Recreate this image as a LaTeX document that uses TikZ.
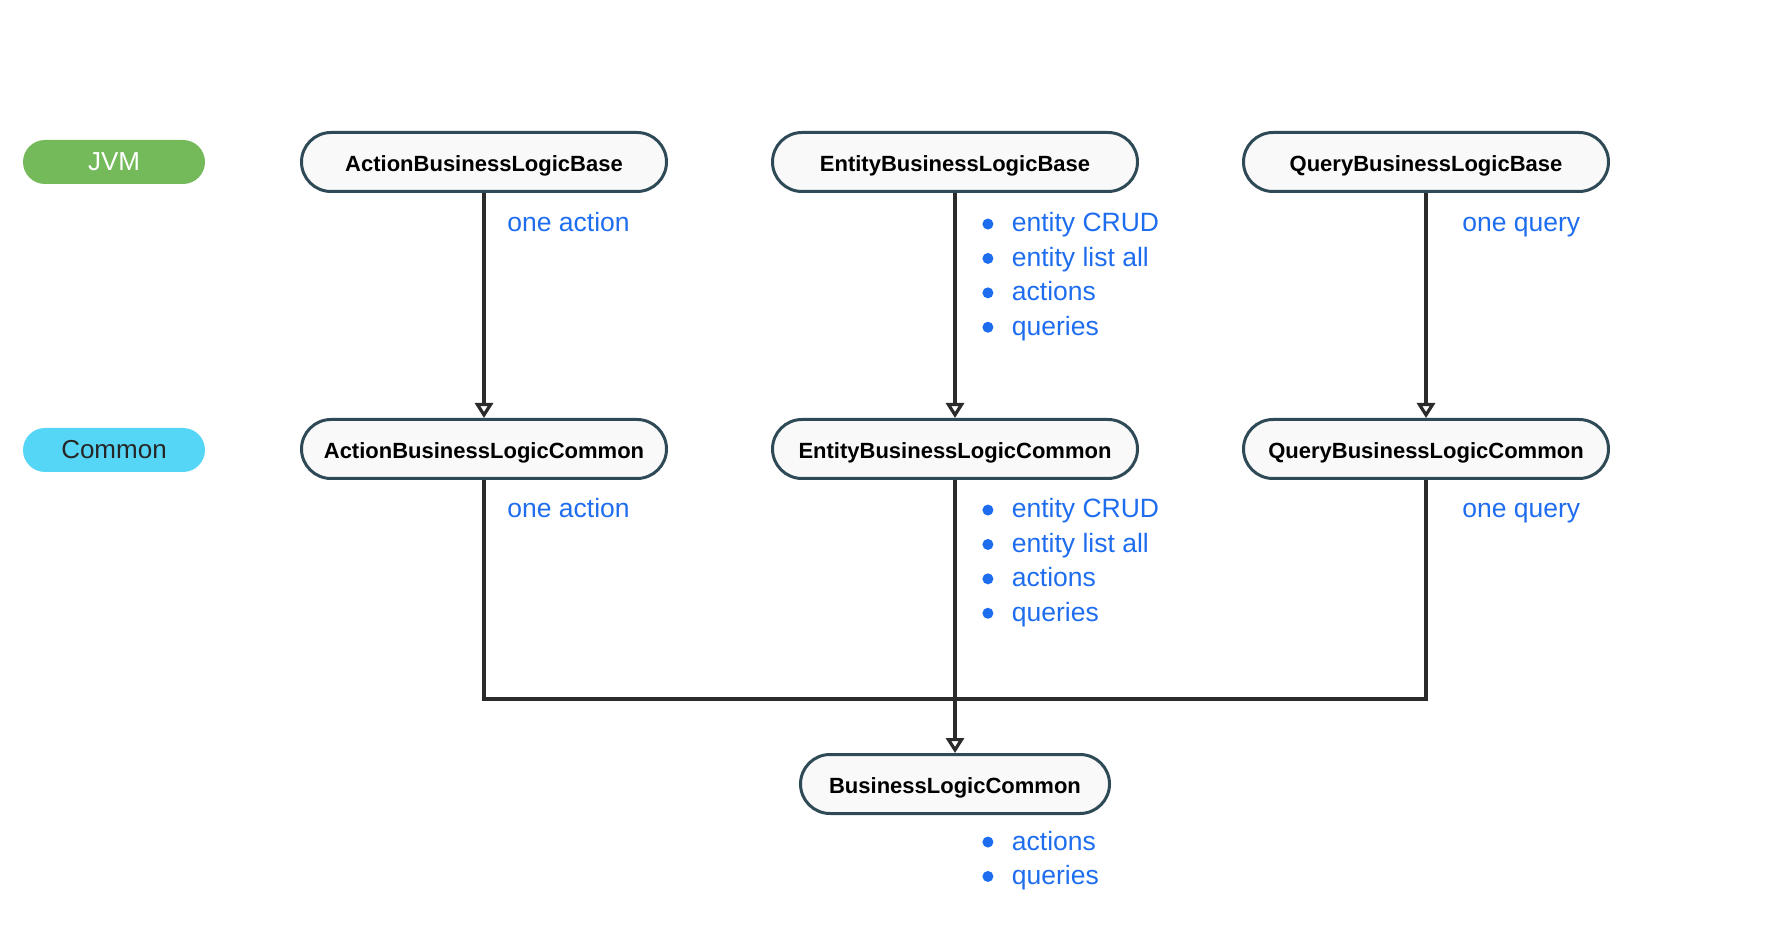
\documentclass[tikz,border=0pt]{standalone}
\usepackage{fontspec}
\setmainfont{Liberation Sans}
\usetikzlibrary{arrows.meta}

\definecolor{edgeink}{HTML}{2B2B2B}
\definecolor{boxline}{HTML}{2F4A57}
\definecolor{boxfill}{HTML}{F9F9F9}
\definecolor{noteblue}{HTML}{1F6DEF}
\definecolor{jvmgreen}{HTML}{74B95A}
\definecolor{commoncyan}{HTML}{56D6F7}

% round list marker sitting on the text's middle
\newcommand\listdot{\tikz[baseline=-0.3em]\fill[noteblue] (0,0) circle (2.75pt);}

\begin{document}
\begin{tikzpicture}[x=0.5pt,y=-0.5pt,
  cls/.style={draw=boxline, line width=1.5pt, fill=boxfill, rounded corners=14.75pt,
    minimum width=182.5pt, minimum height=29.5pt, inner sep=0pt,
    text height=9.7pt, text depth=0pt,
    font=\fontsize{11}{13}\selectfont\bfseries, text=black},
  tag/.style={rounded corners=11pt, minimum width=91pt, minimum height=22pt,
    inner sep=0pt, font=\fontsize{13}{15}\selectfont},
  note/.style={text=noteblue, inner sep=0pt, anchor=base west,
    font=\fontsize{13.25}{17.2}\selectfont},
  flow/.style={draw=edgeink, line width=1.6pt,
    -{Triangle[open, length=7.5pt, width=9pt]}},
  link/.style={draw=edgeink, line width=1.6pt}]
\useasboundingbox (0,0) rectangle (1782,951);

% platform tags
\node[tag, fill=jvmgreen, text=white] (jvm) at (114,162) {JVM};
\node[tag, fill=commoncyan, text=black!85] (common) at (114,450) {Common};

% classes
\node[cls] (abase) at (484,162) {ActionBusinessLogicBase};
\node[cls] (ebase) at (955,162) {EntityBusinessLogicBase};
\node[cls] (qbase) at (1426,162) {QueryBusinessLogicBase};
\node[cls] (acom) at (484,449) {ActionBusinessLogicCommon};
\node[cls] (ecom) at (955,449) {EntityBusinessLogicCommon};
\node[cls] (qcom) at (1426,449) {QueryBusinessLogicCommon};
\node[cls, minimum width=154.5pt] (blc) at (955,784) {BusinessLogicCommon};

% inheritance
\draw[flow] (abase) -- (acom);
\draw[flow] (ebase) -- (ecom);
\draw[flow] (qbase) -- (qcom);
\coordinate (join) at (955,699);
\draw[link] (acom) |- (join);
\draw[link] (qcom) |- (join);
\draw[flow] (ecom) -- (blc);

% notes
\node[note] (anote1) at (507,232) {one action};
\node[note] (anote2) at (507,518) {one action};
\node[note] (qnote1) at (1462,232) {one query};
\node[note] (qnote2) at (1462,518) {one query};
\node[note] (enote1) at (982,232) {\begin{tabular}[t]{@{}l@{\hspace{9.25pt}}l@{}}
  \listdot & entity CRUD\\ \listdot & entity list all\\ \listdot & actions\\ \listdot & queries\end{tabular}};
\node[note] (enote2) at (982,518) {\begin{tabular}[t]{@{}l@{\hspace{9.25pt}}l@{}}
  \listdot & entity CRUD\\ \listdot & entity list all\\ \listdot & actions\\ \listdot & queries\end{tabular}};
\node[note] (bnote) at (982,850) {\begin{tabular}[t]{@{}l@{\hspace{9.25pt}}l@{}}
  \listdot & actions\\ \listdot & queries\end{tabular}};
\end{tikzpicture}
\end{document}
